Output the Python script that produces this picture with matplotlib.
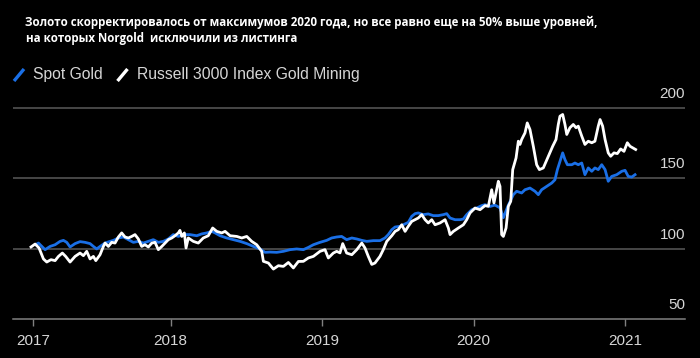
import matplotlib

matplotlib.use("Agg")
import matplotlib.pyplot as plt
from matplotlib.lines import Line2D
from matplotlib.transforms import blended_transform_factory, offset_copy

TITLE_1 = "Золото скорректировалось от максимумов 2020 года, но все равно еще на 50% выше уровней,"
TITLE_2 = "на которых Norgold  исключили из листинга"
SERIES = ["Spot Gold", "Russell 3000 Index Gold Mining"]

# decimal years, values rebased to 100
GOLD_X = [2017.110, 2017.126, 2017.148, 2017.170, 2017.203, 2017.236, 2017.269, 2017.291, 2017.313,
          2017.335, 2017.368, 2017.401, 2017.434, 2017.467, 2017.489, 2017.511, 2017.533, 2017.566,
          2017.599, 2017.621, 2017.654, 2017.687, 2017.720, 2017.753, 2017.786, 2017.819, 2017.852,
          2017.885, 2017.918, 2017.951, 2017.984, 2018.017, 2018.050, 2018.083, 2018.127, 2018.172,
          2018.205, 2018.238, 2018.271, 2018.293, 2018.326, 2018.370, 2018.413, 2018.458, 2018.502,
          2018.546, 2018.590, 2018.623, 2018.656, 2018.700, 2018.744, 2018.788, 2018.832, 2018.876,
          2018.909, 2018.942, 2018.986, 2019.030, 2019.063, 2019.096, 2019.129, 2019.162, 2019.196,
          2019.229, 2019.262, 2019.295, 2019.338, 2019.382, 2019.415, 2019.437, 2019.460, 2019.482,
          2019.515, 2019.536, 2019.569, 2019.592, 2019.614, 2019.635, 2019.668, 2019.701, 2019.734,
          2019.767, 2019.801, 2019.823, 2019.845, 2019.878, 2019.911, 2019.933, 2019.955, 2019.988,
          2020.021, 2020.054, 2020.076, 2020.109, 2020.142, 2020.175, 2020.197, 2020.230, 2020.263,
          2020.285, 2020.318, 2020.340, 2020.373, 2020.406, 2020.428, 2020.450, 2020.483, 2020.517,
          2020.538, 2020.554, 2020.571, 2020.589, 2020.604, 2020.620, 2020.649, 2020.670, 2020.692,
          2020.715, 2020.736, 2020.758, 2020.781, 2020.802, 2020.824, 2020.847, 2020.869, 2020.890,
          2020.913, 2020.946, 2020.979, 2021.001, 2021.022, 2021.045, 2021.067]
GOLD_Y = [103.0, 104.0, 101.6, 99.3, 101.6, 102.8, 105.2, 105.9, 104.5,
          101.2, 103.6, 105.0, 104.5, 103.6, 101.6, 99.8, 101.6, 104.0,
          105.2, 105.9, 107.6, 108.3, 106.4, 104.5, 105.2, 104.0, 105.2,
          106.4, 104.5, 105.2, 106.9, 110.0, 108.7, 110.0, 110.0, 109.2,
          110.5, 111.2, 112.3, 111.2, 109.2, 107.6, 106.4, 105.2, 103.6,
          101.6, 99.8, 97.4, 97.6, 97.4, 98.1, 99.3, 99.8, 99.3,
          100.9, 102.8, 104.5, 105.9, 107.6, 108.3, 108.7, 106.4, 107.6,
          106.9, 105.9, 105.2, 105.7, 105.7, 107.6, 110.0, 113.5, 115.4,
          115.9, 117.0, 118.7, 123.0, 124.9, 125.4, 124.2, 124.7, 123.5,
          123.5, 124.2, 124.9, 121.8, 120.6, 120.6, 121.1, 124.2, 127.7,
          128.9, 130.6, 131.3, 130.0, 131.0, 129.0, 122.0, 131.0, 138.4,
          140.8, 139.6, 141.9, 143.1, 140.8, 138.4, 141.9, 144.3, 146.7,
          149.0, 156.2, 162.1, 168.1, 163.3, 159.7, 159.7, 160.9, 159.7,
          160.9, 152.6, 157.4, 155.0, 157.4, 156.2, 159.7, 156.2, 147.9,
          151.4, 152.6, 155.0, 155.7, 151.4, 150.9, 152.6]

MINERS_X = [2017.077, 2017.104, 2017.130, 2017.159, 2017.181, 2017.209, 2017.236, 2017.258, 2017.284,
            2017.306, 2017.335, 2017.368, 2017.401, 2017.423, 2017.445, 2017.467, 2017.489, 2017.505,
            2017.533, 2017.555, 2017.566, 2017.588, 2017.610, 2017.632, 2017.654, 2017.676, 2017.698,
            2017.720, 2017.742, 2017.764, 2017.786, 2017.808, 2017.830, 2017.852, 2017.875, 2017.896,
            2017.918, 2017.941, 2017.962, 2017.984, 2018.007, 2018.028, 2018.050, 2018.061, 2018.073,
            2018.090, 2018.101, 2018.116, 2018.149, 2018.182, 2018.215, 2018.248, 2018.277, 2018.304,
            2018.337, 2018.359, 2018.392, 2018.436, 2018.469, 2018.502, 2018.535, 2018.568, 2018.601,
            2018.612, 2018.645, 2018.678, 2018.711, 2018.744, 2018.777, 2018.810, 2018.843, 2018.876,
            2018.909, 2018.942, 2018.986, 2019.019, 2019.041, 2019.074, 2019.096, 2019.118, 2019.136,
            2019.162, 2019.196, 2019.229, 2019.262, 2019.283, 2019.305, 2019.328, 2019.349, 2019.382,
            2019.404, 2019.427, 2019.460, 2019.482, 2019.503, 2019.526, 2019.548, 2019.569, 2019.592,
            2019.614, 2019.635, 2019.658, 2019.680, 2019.701, 2019.724, 2019.746, 2019.779, 2019.812,
            2019.834, 2019.845, 2019.867, 2019.900, 2019.933, 2019.955, 2019.977, 2020.010, 2020.043,
            2020.076, 2020.098, 2020.120, 2020.135, 2020.153, 2020.164, 2020.175, 2020.186, 2020.197,
            2020.215, 2020.230, 2020.246, 2020.259, 2020.281, 2020.296, 2020.307, 2020.318, 2020.340,
            2020.355, 2020.373, 2020.395, 2020.417, 2020.435, 2020.461, 2020.494, 2020.523, 2020.545,
            2020.560, 2020.571, 2020.589, 2020.604, 2020.616, 2020.637, 2020.659, 2020.677, 2020.692,
            2020.715, 2020.736, 2020.758, 2020.781, 2020.802, 2020.824, 2020.836, 2020.853, 2020.869,
            2020.890, 2020.906, 2020.928, 2020.950, 2020.972, 2020.994, 2021.016, 2021.034, 2021.052,
            2021.071]
MINERS_Y = [101.2, 103.3, 100.5, 92.7, 90.5, 92.2, 91.5, 94.5, 96.9,
            94.5, 90.5, 94.5, 96.9, 95.0, 98.1, 92.7, 94.5, 91.5,
            95.7, 101.6, 104.0, 101.6, 104.5, 104.0, 108.3, 111.2, 108.3,
            107.6, 108.7, 110.0, 106.9, 101.6, 102.8, 101.2, 104.0, 104.5,
            99.3, 101.6, 104.0, 106.4, 107.6, 109.2, 111.2, 113.0, 108.7,
            111.2, 100.5, 107.6, 105.2, 104.0, 107.6, 109.2, 114.7, 112.3,
            111.2, 112.3, 109.2, 108.7, 107.6, 108.7, 105.2, 102.8, 98.1,
            91.0, 89.8, 85.5, 87.9, 87.4, 90.2, 86.3, 90.9, 91.0,
            93.4, 94.5, 98.1, 99.3, 93.4, 96.9, 98.1, 97.0, 103.6,
            96.9, 95.7, 99.3, 104.0, 100.5, 94.5, 88.8, 89.8, 94.5,
            99.3, 105.2, 109.2, 112.3, 113.5, 117.0, 112.3, 115.9, 119.4,
            120.6, 121.8, 124.2, 120.6, 118.3, 120.6, 117.0, 118.3, 120.6,
            114.7, 110.0, 112.3, 114.7, 117.0, 120.6, 125.4, 128.9, 127.7,
            130.6, 130.1, 141.9, 132.5, 141.9, 147.9, 144.3, 110.0, 108.7,
            114.7, 130.1, 133.7, 156.2, 164.5, 176.4, 174.1, 177.6, 182.3,
            189.4, 184.7, 172.8, 159.7, 156.2, 157.4, 165.7, 172.8, 177.6,
            188.3, 194.2, 195.4, 188.3, 181.2, 186.0, 188.3, 186.0, 187.1,
            180.0, 174.1, 176.4, 175.3, 176.4, 187.1, 191.8, 187.1, 177.6,
            168.1, 165.7, 168.1, 167.6, 170.9, 169.2, 175.3, 172.8, 171.7,
            170.5]

# first label sits on the first data point, as in the source chart
TICK_POS = [2017.09, 2018.0, 2019.0, 2020.0, 2021.0]
TICK_LABELS = ["2017", "2018", "2019", "2020", "2021"]
Y_LEVELS = [50, 100, 150, 200]

BG = "black"
BLUE = "#1a6fe6"
GRID = "#5a5a5a"
TEXT = "#d6d6d6"
FONT = "Liberation Sans"


def main():
    fig = plt.figure(figsize=(7, 3.58), dpi=100, facecolor=BG)
    W, H = 700, 358
    ax = fig.add_axes([13 / W, 39 / H, 672 / W, 219 / H], facecolor=BG)

    for lvl in Y_LEVELS[1:]:
        ax.axhline(lvl, color=GRID, lw=1.1, zorder=1)
    ax.axhline(Y_LEVELS[0], color="#808080", lw=1.1, zorder=1, clip_on=False)

    ax.plot(GOLD_X, GOLD_Y, color=BLUE, lw=2.0, zorder=3, solid_joinstyle="round")
    ax.plot(MINERS_X, MINERS_Y, color="white", lw=2.0, zorder=4, solid_joinstyle="round")

    ax.set_xlim(2016.958, 2021.397)
    ax.set_ylim(50, 205.7)
    for s in ax.spines.values():
        s.set_visible(False)
    ax.set_yticks([])
    ax.set_xticks(TICK_POS)
    ax.set_xticklabels(TICK_LABELS, fontfamily=FONT, fontsize=11, color=TEXT)
    ax.tick_params(axis="x", direction="out", length=5, width=1, color="#808080", pad=5.5)

    trans = blended_transform_factory(ax.transAxes, ax.transData)
    trans = offset_copy(trans, fig=fig, y=10, units="dots")
    for lvl in Y_LEVELS:
        ax.text(1.0, lvl, str(lvl), transform=trans, ha="right", va="baseline",
                fontfamily=FONT, fontsize=11, color=TEXT)

    # title
    fig.text(25 / W, 1 - 25.7 / H, TITLE_1, ha="left", va="baseline", color="white",
             fontfamily="Open Sans", fontweight="bold", fontsize=8.3)
    fig.text(26 / W, 1 - 41.7 / H, TITLE_2, ha="left", va="baseline", color="white",
             fontfamily="Open Sans", fontweight="bold", fontsize=8.3)

    # legend: slash markers + labels
    for (x0, x1, tx), col, lab in zip([(14, 24, 33), (117.5, 127.5, 137)], [BLUE, "white"], SERIES):
        fig.add_artist(Line2D([x0 / W, x1 / W], [1 - 81 / H, 1 - 69 / H], transform=fig.transFigure,
                              color=col, lw=2.4, solid_capstyle="butt"))
        fig.text(tx / W, 1 - 79 / H, lab, ha="left", va="baseline", color=TEXT,
                 fontfamily=FONT, fontsize=11.3)

    fig.savefig("out.png", dpi=100, facecolor=BG)


if __name__ == "__main__":
    main()
